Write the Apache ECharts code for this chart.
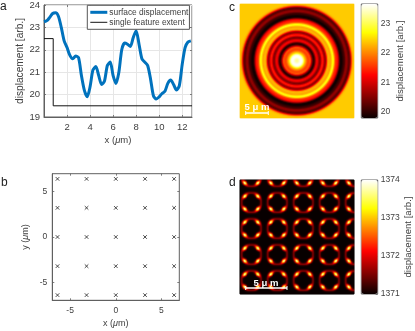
<!DOCTYPE html>
<html><head><meta charset="utf-8">
<style>html,body{margin:0;padding:0;background:#fff}#c{width:415px;height:331px}</style>
<script src="https://cdn.jsdelivr.net/npm/echarts@6/dist/echarts.min.js"></script>
</head><body><div id="c"></div>
<script>
// Panel a: surface displacement along x
const profileX = [0,0.25,0.5,0.75,1,1.25,1.5,1.75,2,2.25,2.5,2.75,3,3.25,3.5,3.75,4,4.25,4.5,4.75,5,5.25,5.5,5.75,6,6.25,6.5,6.75,7,7.25,7.5,7.75,8,8.25,8.5,8.75,9,9.25,9.5,9.75,10,10.25,10.5,10.75,11,11.25,11.5,11.75,12,12.25,12.5,12.75];
const profileY = [23.25,23.3,23.45,23.62,23.65,23.5,23.0,22.4,22.1,21.75,21.6,21.72,21.65,20.85,20.2,19.9,20.35,21.1,21.25,20.85,20.45,20.6,21.3,21.45,20.85,20.5,21.0,22.0,22.3,22.25,22.15,22.55,22.85,22.25,21.6,21.45,21.3,20.7,19.95,19.8,19.9,20.05,20.15,20.5,20.65,20.45,20.2,20.4,21.35,22.1,22.35,22.4];
const stepX = [0,0.8,0.8,12.85];
const stepY = [22.5,22.5,19.5,19.5];
// Panel b: feature positions
const featureX = [-6.38,-3.2,0,3.2,6.38];
const featureY = [-6.38,-3.2,0,3.2,6.38];
// Panel d: one quadrant of the repeating tile, height above the base value
const tileBase = 1371;
const tileQuadrant = [
 [0,0,0,0,0,0,.05,.65,.15,0],
 [0,0,0,0,0,0,.1,.65,.15,0],
 [0,0,0,0,0,.02,.3,.7,.12,0],
 [0,0,0,0,.1,.7,1.3,.7,.05,0],
 [0,0,0,.1,1.6,2.8,1.8,.4,0,0],
 [0,0,.02,.7,2.8,3.0,1.0,.1,0,0],
 [.05,.1,.3,1.3,1.8,1.0,.25,0,0,0],
 [.65,.65,.7,.7,.4,.1,0,0,0,0],
 [.15,.15,.12,.05,0,0,0,0,0,0],
 [0,0,0,0,0,0,0,0,0,0]];
const hotColors = ['#0a0000','#5e0000','#ae0000','#ff0000','#ff5500','#ffaa00','#ffff00','#ffff80','#ffffff'];
const cbarCTicks = [20,21,22,23];
const cbarDTicks = [1371,1372,1373,1374];

const FONT='"Liberation Sans",Arial,sans-serif', TXT='#404040', AX='#606060';
const nameStyle=(s)=>({fontFamily:FONT,fontSize:s,color:TXT,rich:{i:{fontStyle:'italic',fontFamily:FONT,fontSize:s,color:TXT}}});

// build heatmap c from the profile, one cell per screen pixel
const NC=114, pxPerUm=4.53, cData=[];
for(let j=0;j<NC;j++)for(let i=0;i<NC;i++){
  const r=Math.hypot(i-(NC-1)/2,j-(NC-1)/2)/pxPerUm;
  const t=r/0.25, k=Math.floor(t), n=profileY.length-1;
  const v=k>=n?profileY[n]:profileY[k]+(profileY[k+1]-profileY[k])*(t-k);
  cData.push([i,j,v]);
}
// build heatmap d from the tile, one cell per screen pixel
const ND=114, periodPx=26, tileCells=19, centreX=11, centreY=22.4, dData=[];
const sampleTile=(u,v)=>{
  const a=Math.min(u,8.999), b=Math.min(v,8.999), i=Math.floor(a), j=Math.floor(b), f=a-i, g=b-j, Q=tileQuadrant;
  return Q[j][i]*(1-f)*(1-g)+Q[j][i+1]*f*(1-g)+Q[j+1][i]*(1-f)*g+Q[j+1][i+1]*f*g;
};
const fold=(d)=>{let w=((d%periodPx)+periodPx)%periodPx; if(w>periodPx/2)w=periodPx-w; return w*tileCells/periodPx;};
for(let j=0;j<ND;j++)for(let i=0;i<ND;i++){
  dData.push([i,j,tileBase+sampleTile(fold(i-centreX),fold(j-centreY))]);
}
const range=(n)=>Array.from({length:n},(_,i)=>i);

const grids=[
 {left:44,top:4,width:148,height:113},
 {left:52.3,top:173.7,width:127,height:126.6},
 {left:240,top:4,width:114,height:114},
 {left:240,top:180,width:114,height:114},
 {left:361.3,top:4,width:16.4,height:114},
 {left:361.3,top:180,width:16.4,height:114}
];
grids.forEach(g=>{g.show=true;g.borderColor=AX;g.borderWidth=1;g.containLabel=false;g.backgroundColor='transparent'});
grids[2].borderWidth=0; grids[2].show=false;

const line={onZero:false,lineStyle:{color:AX,width:1}};
const lab=(s,m)=>({fontFamily:FONT,fontSize:s,color:TXT,margin:m});
const tick={inside:true,length:2,lineStyle:{color:AX,width:0.8}};
const ticksOnly=(v)=>({inside:true,length:2,lineStyle:{color:AX,width:0.8},customValues:v});
const mirrorX=(g,min,max,v)=>({type:'value',gridIndex:g,min,max,position:'top',axisLine:{show:false,onZero:false},axisLabel:{show:false},splitLine:{show:false},axisTick:ticksOnly(v)});
const mirrorY=(g,min,max,v)=>({type:'value',gridIndex:g,min,max,position:'right',axisLine:{show:false,onZero:false},axisLabel:{show:false},splitLine:{show:false},axisTick:ticksOnly(v)});

const xAxis=[
 {type:'value',gridIndex:0,min:0,max:12.85,interval:2,axisLine:line,axisTick:tick,
  splitLine:{show:true,lineStyle:{color:'#e6e6e6',width:1}},
  axisLabel:Object.assign(lab(9.5,5),{showMinLabel:false,showMaxLabel:false}),
  name:'x ({i|μ}m)',nameLocation:'middle',nameGap:18,nameTextStyle:nameStyle(9.5)},
 {type:'value',gridIndex:1,min:-6.95,max:6.95,axisLine:line,axisTick:ticksOnly([-5,0,5]),splitLine:{show:false},
  axisLabel:Object.assign(lab(8.5,6),{customValues:[-5,0,5]}),
  name:'x ({i|μ}m)',nameLocation:'middle',nameGap:19,nameTextStyle:nameStyle(9)},
 {type:'category',gridIndex:2,data:range(NC),show:false},
 {type:'category',gridIndex:3,data:range(ND),show:false},
 {type:'value',gridIndex:4,min:0,max:1,show:false},
 {type:'value',gridIndex:5,min:0,max:1,show:false},
 mirrorX(0,0,12.85,[2,4,6,8,10,12]),
 mirrorX(1,-6.95,6.95,[-5,0,5])
];
const yAxis=[
 {type:'value',gridIndex:0,min:19,max:24,interval:1,axisLine:line,axisTick:tick,
  splitLine:{show:true,lineStyle:{color:'#e6e6e6',width:1}},
  axisLabel:lab(9.5,4),name:'displacement [arb.]',nameLocation:'middle',nameGap:17,nameTextStyle:nameStyle(10.2)},
 {type:'value',gridIndex:1,min:-6.95,max:6.95,axisLine:line,axisTick:ticksOnly([-5,0,5]),splitLine:{show:false},
  axisLabel:Object.assign(lab(8.5,5),{customValues:[-5,0,5]}),
  name:'y ({i|μ}m)',nameLocation:'middle',nameGap:22,nameTextStyle:nameStyle(9)},
 {type:'category',gridIndex:2,data:range(NC),show:false,inverse:true},
 {type:'category',gridIndex:3,data:range(ND),show:false,inverse:true},
 {type:'value',gridIndex:4,position:'right',min:19.8,max:23.66,axisLine:{show:false,onZero:false},axisTick:ticksOnly(cbarCTicks),splitLine:{show:false},
  axisLabel:Object.assign(lab(8.5,3),{customValues:cbarCTicks}),
  name:'displacement [arb.]',nameLocation:'middle',nameRotate:90,nameGap:18,nameTextStyle:nameStyle(9.6)},
 {type:'value',gridIndex:5,position:'right',min:1371,max:1374,axisLine:{show:false,onZero:false},axisTick:ticksOnly(cbarDTicks),splitLine:{show:false},
  axisLabel:Object.assign(lab(8.5,3),{customValues:cbarDTicks,formatter:(v)=>String(v)}),
  name:'displacement [arb.]',nameLocation:'middle',nameRotate:90,nameGap:25,nameTextStyle:nameStyle(9.6)},
 mirrorY(0,19,24,[20,21,22,23]),
 mirrorY(1,-6.95,6.95,[-5,0,5])
];

const points=[];featureY.forEach(y=>featureX.forEach(x=>points.push([x,y])));

const panelLabel=(t,x,y)=>({type:'text',left:x,top:y,z:50,style:{text:t,fontFamily:FONT,fontSize:12,fill:'#222'}});
const scale=(x0,x1,y,cxT,yT)=>[
 {type:'line',z:50,shape:{x1:x0,y1:y,x2:x1,y2:y},style:{stroke:'#fff',lineWidth:1.5}},
 {type:'line',z:50,shape:{x1:x0,y1:y-2,x2:x0,y2:y+2},style:{stroke:'#fff',lineWidth:1}},
 {type:'line',z:50,shape:{x1:x1,y1:y-2,x2:x1,y2:y+2},style:{stroke:'#fff',lineWidth:1}},
 {type:'text',z:50,x:cxT,y:yT,style:{text:'5 μ m',fontFamily:FONT,fontSize:9.5,fontWeight:'bold',fill:'#fff',align:'center',verticalAlign:'middle'}}
];

const chart=echarts.init(document.getElementById('c'),null,{renderer:'canvas'});
chart.setOption({
 animation:false,backgroundColor:'#fff',textStyle:{fontFamily:FONT},
 grid:grids,xAxis,yAxis,
 legend:{left:87.3,top:5.3,orient:'vertical',itemGap:2,itemWidth:17,itemHeight:8,padding:[3,1,3,3],
  backgroundColor:'#fff',borderColor:'#555',borderWidth:1,textStyle:{fontFamily:FONT,fontSize:8.4,color:TXT,padding:[0,0,0,-3]},
  data:[{name:'surface displacement',icon:'path://M0 0L0 0M0 2.5H17V5.5H0ZM17 8L17 8'},
        {name:'single feature extent',icon:'path://M0 0L0 0M0 3.5H17V4.5H0ZM17 8L17 8'}],z:20},
 visualMap:[
  {type:'continuous',seriesIndex:3,min:19.8,max:23.66,inRange:{color:hotColors},left:361.3,top:4,itemWidth:16.4,itemHeight:114,padding:0,calculable:false,hoverLink:false,text:null,z:1},
  {type:'continuous',seriesIndex:4,min:1371,max:1374,inRange:{color:hotColors},left:361.3,top:180,itemWidth:16.4,itemHeight:114,padding:0,calculable:false,hoverLink:false,text:null,z:1}
 ],
 graphic:{elements:[
  panelLabel('a',0,1),panelLabel('b',1,177),panelLabel('c',229,2),panelLabel('d',229,177),
  ...scale(245.7,268.3,113,257,107),
  ...scale(245.7,287,288,266,283)
 ]},
 series:[
  {name:'surface displacement',type:'line',xAxisIndex:0,yAxisIndex:0,data:profileX.map((x,i)=>[x,profileY[i]]),smooth:0.25,symbol:'none',lineStyle:{color:'#0072bd',width:3},itemStyle:{color:'#0072bd'}},
  {name:'single feature extent',type:'line',xAxisIndex:0,yAxisIndex:0,data:stepX.map((x,i)=>[x,stepY[i]]),symbol:'none',lineStyle:{color:'#111',width:1},itemStyle:{color:'#111'}},
  {type:'scatter',xAxisIndex:1,yAxisIndex:1,data:points,symbol:'path://M0 0L10 10M10 0L0 10',symbolSize:3.6,itemStyle:{color:'none',borderColor:'#222',borderWidth:1}},
  {type:'heatmap',xAxisIndex:2,yAxisIndex:2,data:cData,progressive:0,emphasis:{disabled:true}},
  {type:'heatmap',xAxisIndex:3,yAxisIndex:3,data:dData,progressive:0,emphasis:{disabled:true}}
 ]
});
</script></body></html>
